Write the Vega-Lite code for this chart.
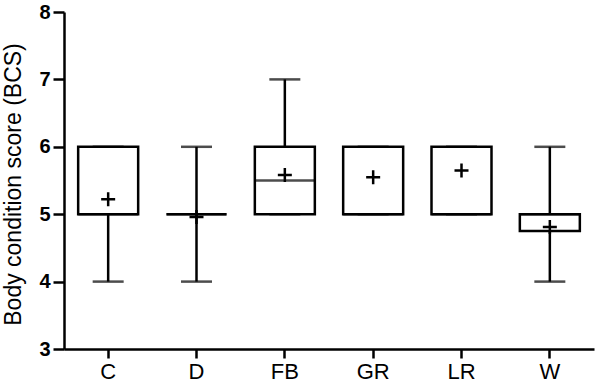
{
  "$schema": "https://vega.github.io/schema/vega-lite/v6.json",
  "autosize": {"type": "none"},
  "padding": {"left": 64, "top": 12, "right": 2, "bottom": 39},
  "width": 530,
  "height": 337,
  "background": "white",
  "config": {
    "view": {"stroke": null},
    "font": "Liberation Sans",
    "axis": {"domainColor": "black", "domainWidth": 2.5, "tickColor": "black", "tickWidth": 2.5, "grid": false, "labelColor": "black", "titleColor": "black"},
    "axisX": {"labelAngle": 0, "labelFontSize": 22, "tickSize": 9, "labelPadding": 3},
    "axisY": {"labelFontSize": 20, "labelFontWeight": "bold", "tickSize": 11, "labelPadding": 3, "titleFontSize": 23, "titleFontWeight": "normal", "titleX": -44, "titleY": 172, "titleBaseline": "alphabetic", "format": "d"}
  },
  "data": {
    "values": [
      {"group": "C", "lo": 4, "q1": 5, "med": 5, "q3": 6, "hi": 6, "mean": 5.22},
      {"group": "D", "lo": 4, "q1": 5, "med": 5, "q3": 5, "hi": 6, "mean": 4.96},
      {"group": "FB", "lo": 5, "q1": 5, "med": 5.5, "q3": 6, "hi": 7, "mean": 5.58},
      {"group": "GR", "lo": 5, "q1": 5, "med": 5, "q3": 6, "hi": 6, "mean": 5.55},
      {"group": "LR", "lo": 5, "q1": 5, "med": 5, "q3": 6, "hi": 6, "mean": 5.65},
      {"group": "W", "lo": 4, "q1": 4.75, "med": 5, "q3": 5, "hi": 6, "mean": 4.81}
    ]
  },
  "encoding": {
    "x": {
      "field": "group", "type": "nominal", "sort": null,
      "scale": {"paddingInner": 0, "paddingOuter": 0},
      "axis": {"title": null}
    }
  },
  "layer": [
    {
      "mark": {"type": "rule", "color": "black", "strokeWidth": 2.5},
      "encoding": {
        "y": {"field": "lo", "type": "quantitative", "scale": {"domain": [3, 8], "nice": false, "zero": false},
          "axis": {"title": "Body condition score (BCS)", "values": [3, 4, 5, 6, 7, 8], "format": "d"}},
        "y2": {"field": "q1"}
      }
    },
    {
      "mark": {"type": "rule", "color": "black", "strokeWidth": 2.5},
      "encoding": {
        "y": {"field": "q3", "type": "quantitative"},
        "y2": {"field": "hi"}
      }
    },
    {
      "mark": {"type": "tick", "color": "black", "thickness": 2.5, "size": 31},
      "encoding": {"y": {"field": "lo", "type": "quantitative"}}
    },
    {
      "mark": {"type": "tick", "color": "black", "thickness": 2.5, "size": 31},
      "encoding": {"y": {"field": "hi", "type": "quantitative"}}
    },
    {
      "mark": {"type": "bar", "fill": "white", "stroke": "black", "strokeWidth": 2.5, "width": 60},
      "encoding": {
        "y": {"field": "q1", "type": "quantitative"},
        "y2": {"field": "q3"}
      }
    },
    {
      "mark": {"type": "tick", "color": "black", "thickness": 2.5, "size": 60},
      "encoding": {"y": {"field": "med", "type": "quantitative"}}
    },
    {
      "mark": {"type": "point", "shape": "M-1,0H1M0,-1V1", "size": 196, "filled": false, "stroke": "black", "strokeWidth": 2.5, "opacity": 1},
      "encoding": {"y": {"field": "mean", "type": "quantitative"}}
    }
  ]
}
